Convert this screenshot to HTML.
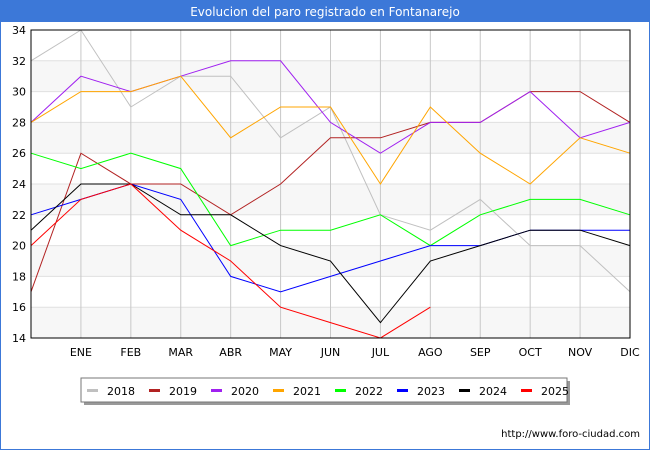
<!DOCTYPE html>
<html><head><meta charset="utf-8"><style>
body{margin:0;width:650px;height:450px;background:#fff;font-family:"DejaVu Sans","Liberation Sans",sans-serif;overflow:hidden}
</style></head><body>
<svg width="650" height="450" xmlns="http://www.w3.org/2000/svg" font-family="DejaVu Sans, Liberation Sans, sans-serif">
<rect x="0" y="0" width="650" height="450" fill="#fff" stroke="#3c78d8" stroke-width="2"/>
<rect x="0" y="0" width="650" height="22" fill="#3c78d8"/>
<text x="325" y="16" text-anchor="middle" fill="#fff" font-size="12">Evolucion del paro registrado en Fontanarejo</text>
<g id="bands"></g><g id="grid"></g><g id="series"></g>
<rect x="31" y="30" width="599" height="308" fill="none" stroke="#000" stroke-width="1"/>
<g id="yticks" font-size="11" fill="#000"></g><g id="xticks" font-size="11" fill="#000"></g>
<rect x="84" y="381" width="486" height="24" fill="#999"/>
<rect x="81" y="378" width="486" height="24" fill="#fff" stroke="#777"/>
<g id="legend" font-size="11"></g>
<text x="640" y="437" text-anchor="end" font-size="10" fill="#000">http://www.foro-ciudad.com</text>
</svg>
<script>
const months=["","ENE","FEB","MAR","ABR","MAY","JUN","JUL","AGO","SEP","OCT","NOV","DIC"];
const yTicks=[14,16,18,20,22,24,26,28,30,32,34];
const years=["2018","2019","2020","2021","2022","2023","2024","2025"];
const colors=["#c0c0c0","#b22222","#a020f0","#ffa500","#00ff00","#0000ff","#000000","#ff0000"];
const s2018=[32,34,29,31,31,27,29,22,21,23,20,20,17];
const s2019=[17,26,24,24,22,24,27,27,28,28,30,30,28];
const s2020=[28,31,30,31,32,32,28,26,28,28,30,27,28];
const s2021=[28,30,30,31,27,29,29,24,29,26,24,27,26];
const s2022=[26,25,26,25,20,21,21,22,20,22,23,23,22];
const s2023=[22,23,24,23,18,17,18,19,20,20,21,21,21];
const s2024=[21,24,24,22,22,20,19,15,19,20,21,21,20];
const s2025=[20,23,24,21,19,16,15,14,16];
const series=[s2018,s2019,s2020,s2021,s2022,s2023,s2024,s2025];
const NS="http://www.w3.org/2000/svg";
const X=i=>31+i*(599/12), Y=v=>338-(v-14)*(308/20);
function mk(t,a,p){const e=document.createElementNS(NS,t);for(const k in a)e.setAttribute(k,a[k]);document.getElementById(p).appendChild(e);return e;}
for(let v=14;v<34;v+=4){const r=mk('rect',{x:31,y:Y(v+2),width:599,height:Y(v)-Y(v+2),fill:'#f7f7f7'},'bands');

}
yTicks.forEach(v=>{const l=mk('line',{x1:31,x2:630,y1:Y(v),y2:Y(v),stroke:'#e0e0e0'},'grid');


const t=mk('text',{x:26,y:Y(v)+4,'text-anchor':'end'},'yticks');t.textContent=v;

});
months.forEach((m,i)=>{if(i==0)return;const l=mk('line',{x1:X(i),x2:X(i),y1:30,y2:338,stroke:'#c8c8c8'},'grid');


const t=mk('text',{x:X(i),y:356,'text-anchor':'middle'},'xticks');t.textContent=m;

});
series.forEach((s,k)=>{const p=mk('polyline',{points:s.map((v,i)=>X(i)+','+Y(v)).join(' '),fill:'none',stroke:colors[k],'stroke-width':1},'series');


const lx=87+k*62;
const sw=mk('rect',{x:lx,y:389,width:11,height:3,fill:colors[k]},'legend');


const t=mk('text',{x:lx+20,y:395},'legend');t.textContent=years[k];

});
</script>
</body></html>
